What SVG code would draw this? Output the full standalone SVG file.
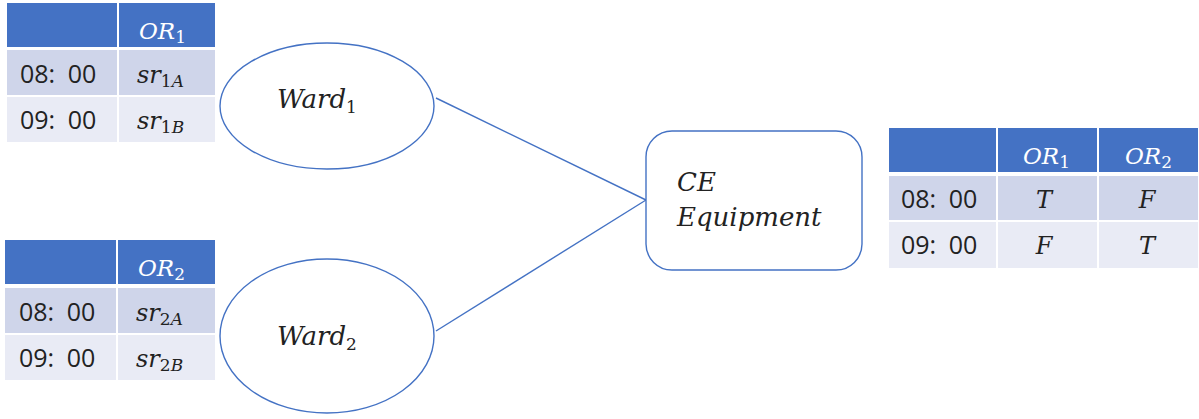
<svg xmlns="http://www.w3.org/2000/svg" width="1199" height="419" viewBox="0 0 1199 419">
  <style>
    .hd { fill: #4472C4; }
    .r1 { fill: #CFD5EA; }
    .r2 { fill: #E9EBF5; }
    .sep { stroke: #ffffff; stroke-width: 2; }
    .time { font-family: "Open Sans", "Noto Sans", sans-serif; font-size: 25px; fill: #222; word-spacing: 6px; }
    .m { font-family: "DejaVu Serif", "Liberation Serif", serif; font-style: italic; font-size: 24px; fill: #222; }
    .big { font-size: 26px; }
    .mh { font-family: "DejaVu Serif", "Liberation Serif", serif; font-style: italic; font-size: 23px; fill: #ffffff; }
    .sub { font-size: 17px; font-style: normal; }
    .subi { font-size: 17px; }
    .shape { fill: #ffffff; stroke: #4472C4; stroke-width: 1.4; }
    .conn { stroke: #4472C4; stroke-width: 1.4; fill: none; }
  </style>

  <!-- connectors -->
  <g id="connectors">
    <line class="conn" x1="436" y1="98" x2="646" y2="200"/>
    <line class="conn" x1="436" y1="331" x2="646" y2="200"/>
  </g>

  <!-- schedule for operating room 1 -->
  <g id="table-or1">
    <rect class="hd" x="7" y="3" width="208" height="44"/>
    <rect class="r1" x="7" y="50" width="208" height="46"/>
    <rect class="r2" x="7" y="96" width="208" height="46"/>
    <line class="sep" x1="118" y1="3" x2="118" y2="142"/>
    <line class="sep" x1="7" y1="96" x2="215" y2="96"/>
    <text class="mh" x="139" y="39">OR<tspan class="sub" dy="4">1</tspan></text>
    <text class="time" x="20" y="83">08: 00</text>
    <text class="m" x="137" y="83">sr<tspan class="subi" dy="4"><tspan font-style="normal">1</tspan>A</tspan></text>
    <text class="time" x="20" y="129">09: 00</text>
    <text class="m" x="137" y="129">sr<tspan class="subi" dy="4"><tspan font-style="normal">1</tspan>B</tspan></text>
  </g>

  <!-- schedule for operating room 2 -->
  <g id="table-or2">
    <rect class="hd" x="5" y="240" width="210" height="44"/>
    <rect class="r1" x="5" y="288" width="210" height="46"/>
    <rect class="r2" x="5" y="334" width="210" height="46"/>
    <line class="sep" x1="117" y1="240" x2="117" y2="380"/>
    <line class="sep" x1="5" y1="334" x2="215" y2="334"/>
    <text class="mh" x="138" y="276">OR<tspan class="sub" dy="4">2</tspan></text>
    <text class="time" x="19" y="321">08: 00</text>
    <text class="m" x="136" y="321">sr<tspan class="subi" dy="4"><tspan font-style="normal">2</tspan>A</tspan></text>
    <text class="time" x="19" y="367">09: 00</text>
    <text class="m" x="136" y="367">sr<tspan class="subi" dy="4"><tspan font-style="normal">2</tspan>B</tspan></text>
  </g>

  <!-- ward nodes -->
  <g id="ward1">
    <ellipse class="shape" cx="327" cy="106" rx="107" ry="63"/>
    <text class="m big" x="277" y="108">Ward<tspan class="sub" dy="5">1</tspan></text>
  </g>
  <g id="ward2">
    <ellipse class="shape" cx="327" cy="336" rx="107" ry="77"/>
    <text class="m big" x="277" y="345">Ward<tspan class="sub" dy="5">2</tspan></text>
  </g>

  <!-- equipment node -->
  <g id="ce-equipment">
    <rect class="shape" x="646" y="131" width="216" height="139" rx="26" ry="26"/>
    <text class="m big" x="677" y="191">CE</text>
    <text class="m big" x="677" y="226">Equipment</text>
  </g>

  <!-- availability table -->
  <g id="table-availability">
    <rect class="hd" x="889" y="128" width="309" height="44"/>
    <rect class="r1" x="889" y="176" width="309" height="45"/>
    <rect class="r2" x="889" y="221" width="309" height="47"/>
    <line class="sep" x1="997" y1="128" x2="997" y2="268"/>
    <line class="sep" x1="1098" y1="128" x2="1098" y2="268"/>
    <line class="sep" x1="889" y1="221" x2="1198" y2="221"/>
    <text class="mh" x="1023" y="164">OR<tspan class="sub" dy="4">1</tspan></text>
    <text class="mh" x="1125" y="164">OR<tspan class="sub" dy="4">2</tspan></text>
    <text class="time" x="901" y="208">08: 00</text>
    <text class="m" x="1044" y="208" text-anchor="middle">T</text>
    <text class="m" x="1147" y="208" text-anchor="middle">F</text>
    <text class="time" x="901" y="254">09: 00</text>
    <text class="m" x="1044" y="254" text-anchor="middle">F</text>
    <text class="m" x="1147" y="254" text-anchor="middle">T</text>
  </g>
</svg>
